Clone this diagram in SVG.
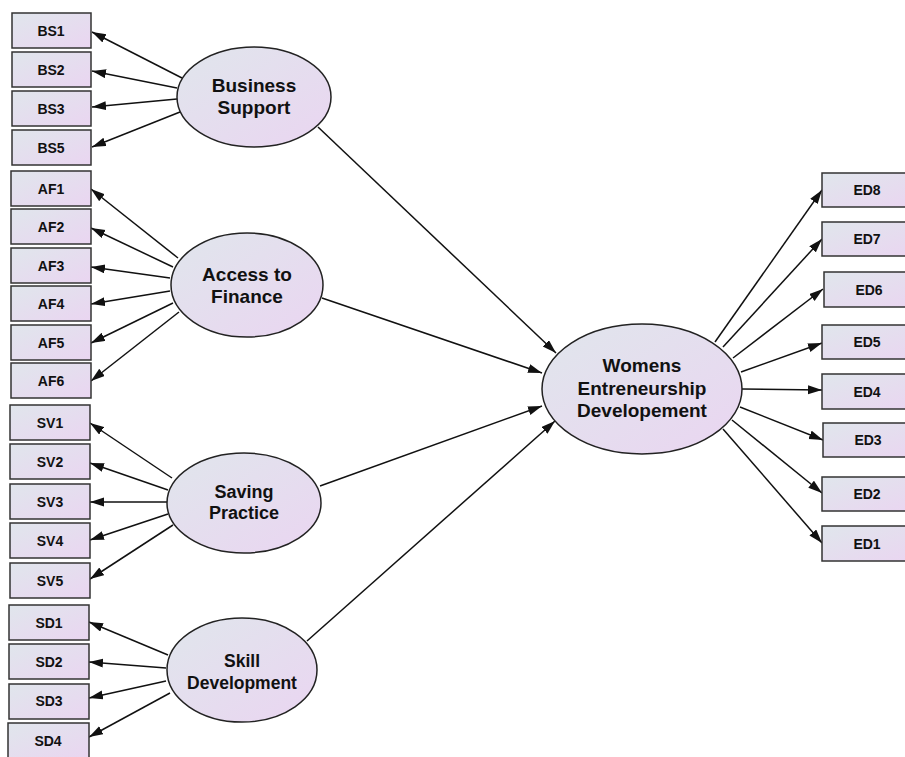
<svg xmlns="http://www.w3.org/2000/svg" width="905" height="757" viewBox="0 0 905 757">
<defs>
<linearGradient id="g" x1="0" y1="0" x2="1" y2="1">
<stop offset="0" stop-color="#e0e6ec"/>
<stop offset="1" stop-color="#ead5f1"/>
</linearGradient>
<marker id="ah" markerUnits="userSpaceOnUse" markerWidth="15" markerHeight="10" refX="14" refY="4.5" orient="auto">
<path d="M0,0 L14,4.5 L0,9 z" fill="#111"/>
</marker>
<style>
.box{fill:url(#g);stroke:#333;stroke-width:1.5}
.ell{fill:url(#g);stroke:#222;stroke-width:1.5}
.bl{font-family:"Liberation Sans",Arial,sans-serif;font-weight:bold;font-size:14px;fill:#111;text-anchor:middle}
.el{font-family:"Liberation Sans",Arial,sans-serif;font-weight:bold;font-size:19px;fill:#111;text-anchor:middle}
#connectors line{stroke:#111;stroke-width:1.5;marker-end:url(#ah)}
</style>
</defs>
<rect width="905" height="757" fill="#fff"/>
<g id="connectors">
<line x1="182" y1="78" x2="92" y2="32"/>
<line x1="177" y1="88" x2="92" y2="71"/>
<line x1="177" y1="99" x2="92" y2="107"/>
<line x1="180" y1="112" x2="92" y2="147"/>
<line x1="178" y1="258" x2="91" y2="189"/>
<line x1="173" y1="267" x2="91" y2="228"/>
<line x1="170" y1="278" x2="91" y2="267"/>
<line x1="170" y1="291" x2="91" y2="304"/>
<line x1="173" y1="303" x2="91" y2="343"/>
<line x1="179" y1="312" x2="91" y2="381"/>
<line x1="172" y1="478" x2="90" y2="423"/>
<line x1="168" y1="490" x2="90" y2="463"/>
<line x1="167" y1="502" x2="90" y2="502"/>
<line x1="168" y1="514" x2="90" y2="540"/>
<line x1="173" y1="525" x2="90" y2="579"/>
<line x1="168" y1="655" x2="89" y2="622"/>
<line x1="166" y1="668" x2="89" y2="662"/>
<line x1="166" y1="681" x2="89" y2="698"/>
<line x1="170" y1="693" x2="89" y2="737"/>
<line x1="318" y1="127" x2="556" y2="353"/>
<line x1="322" y1="298" x2="542" y2="373"/>
<line x1="320" y1="486" x2="542" y2="406"/>
<line x1="307" y1="641" x2="555" y2="421"/>
<line x1="715" y1="342" x2="822" y2="190"/>
<line x1="723" y1="347" x2="822" y2="239"/>
<line x1="733" y1="358" x2="823" y2="289"/>
<line x1="741" y1="372" x2="822" y2="343"/>
<line x1="742" y1="389" x2="822" y2="390"/>
<line x1="740" y1="407" x2="823" y2="440"/>
<line x1="732" y1="420" x2="822" y2="493"/>
<line x1="723" y1="429" x2="822" y2="543"/>
</g>
<g id="BS1"><rect class="box" x="12" y="13" width="79" height="35"/><text class="bl" x="51" y="35.5">BS1</text></g>
<g id="BS2"><rect class="box" x="12" y="52" width="79" height="35"/><text class="bl" x="51" y="74.5">BS2</text></g>
<g id="BS3"><rect class="box" x="12" y="91" width="79" height="35"/><text class="bl" x="51" y="113.5">BS3</text></g>
<g id="BS5"><rect class="box" x="12" y="130" width="79" height="35"/><text class="bl" x="51" y="152.5">BS5</text></g>
<g id="AF1"><rect class="box" x="11" y="171" width="80" height="35"/><text class="bl" x="51" y="193.5">AF1</text></g>
<g id="AF2"><rect class="box" x="11" y="209" width="80" height="35"/><text class="bl" x="51" y="231.5">AF2</text></g>
<g id="AF3"><rect class="box" x="11" y="248" width="80" height="35"/><text class="bl" x="51" y="270.5">AF3</text></g>
<g id="AF4"><rect class="box" x="11" y="286" width="80" height="35"/><text class="bl" x="51" y="308.5">AF4</text></g>
<g id="AF5"><rect class="box" x="11" y="325" width="80" height="35"/><text class="bl" x="51" y="347.5">AF5</text></g>
<g id="AF6"><rect class="box" x="11" y="363" width="80" height="35"/><text class="bl" x="51" y="385.5">AF6</text></g>
<g id="SV1"><rect class="box" x="10" y="405" width="80" height="35"/><text class="bl" x="50" y="427.5">SV1</text></g>
<g id="SV2"><rect class="box" x="10" y="444" width="80" height="35"/><text class="bl" x="50" y="466.5">SV2</text></g>
<g id="SV3"><rect class="box" x="10" y="484" width="80" height="35"/><text class="bl" x="50" y="506.5">SV3</text></g>
<g id="SV4"><rect class="box" x="10" y="523" width="80" height="35"/><text class="bl" x="50" y="545.5">SV4</text></g>
<g id="SV5"><rect class="box" x="10" y="563" width="80" height="35"/><text class="bl" x="50" y="585.5">SV5</text></g>
<g id="SD1"><rect class="box" x="9" y="605" width="80" height="35"/><text class="bl" x="49" y="627.5">SD1</text></g>
<g id="SD2"><rect class="box" x="9" y="644" width="80" height="35"/><text class="bl" x="49" y="666.5">SD2</text></g>
<g id="SD3"><rect class="box" x="9" y="684" width="80" height="35"/><text class="bl" x="49" y="706">SD3</text></g>
<g id="SD4"><rect class="box" x="8" y="723" width="81" height="36"/><text class="bl" x="48" y="745.5">SD4</text></g>
<g id="ED8"><rect class="box" x="822" y="173" width="95" height="34"/><text class="bl" x="867" y="195">ED8</text></g>
<g id="ED7"><rect class="box" x="822" y="222" width="95" height="34"/><text class="bl" x="867" y="244">ED7</text></g>
<g id="ED6"><rect class="box" x="824" y="272" width="95" height="35"/><text class="bl" x="869" y="294.5">ED6</text></g>
<g id="ED5"><rect class="box" x="822" y="325" width="95" height="34"/><text class="bl" x="867" y="347">ED5</text></g>
<g id="ED4"><rect class="box" x="822" y="374" width="95" height="35"/><text class="bl" x="867" y="396.5">ED4</text></g>
<g id="ED3"><rect class="box" x="823" y="423" width="95" height="34"/><text class="bl" x="868" y="445">ED3</text></g>
<g id="ED2"><rect class="box" x="822" y="477" width="95" height="34"/><text class="bl" x="867" y="499">ED2</text></g>
<g id="ED1"><rect class="box" x="822" y="526" width="95" height="35"/><text class="bl" x="867" y="548.5">ED1</text></g>
<g id="BusinessSupport"><ellipse class="ell" cx="254" cy="97" rx="77" ry="50"/><text class="el" x="254" y="91.5">Business</text><text class="el" x="254" y="113.5">Support</text></g>
<g id="AccessToFinance"><ellipse class="ell" cx="247" cy="285" rx="76" ry="52"/><text class="el" x="247" y="281">Access to</text><text class="el" x="247" y="303">Finance</text></g>
<g id="SavingPractice"><ellipse class="ell" cx="244" cy="503" rx="77" ry="50"/><text class="el" x="244" y="497.5" style="font-size:18px">Saving</text><text class="el" x="244" y="519" style="font-size:18px">Practice</text></g>
<g id="SkillDevelopment"><ellipse class="ell" cx="242" cy="670" rx="75" ry="52"/><text class="el" x="242" y="667" style="font-size:17.5px">Skill</text><text class="el" x="242" y="689" style="font-size:17.5px">Development</text></g>
<g id="WomensEntrepreneurship"><ellipse class="ell" cx="642" cy="389" rx="100" ry="65"/><text class="el" x="642" y="372">Womens</text><text class="el" x="642" y="394.5">Entreneurship</text><text class="el" x="642" y="417">Developement</text></g>
</svg>
